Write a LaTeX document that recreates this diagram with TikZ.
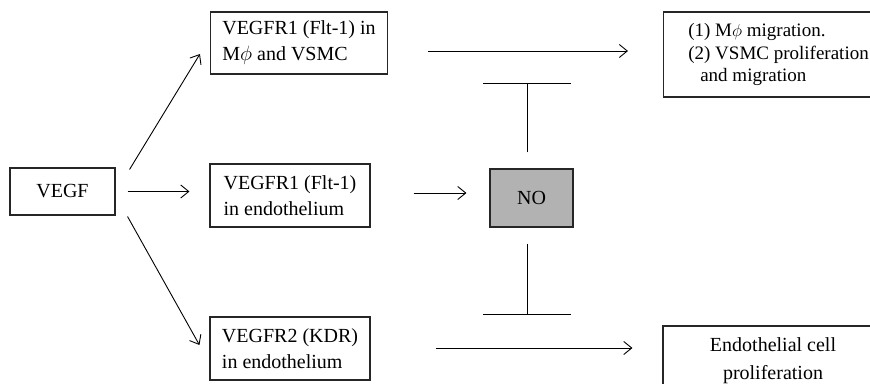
\documentclass[tikz,border=0pt]{standalone}
\usepackage{fontspec}
\setmainfont{Liberation Serif}
\usetikzlibrary{arrows.meta}

\begin{document}
\begin{tikzpicture}[x=1pt,y=-1pt]
\tikzstyle{box}=[draw=black!85,line width=1.1pt,inner sep=0pt,align=left,font=\fontsize{20}{26}\selectfont];
\tikzstyle{link}=[line width=0.9pt,-{Straight Barb[length=8pt,width=13pt]}];
\tikzstyle{inhibit}=[line width=0.9pt,-{Bar[width=88pt]}];
\useasboundingbox (0,0) rectangle (870,383);
\clip (0,0) rectangle (870,383);
% receptors
\node[box,minimum width=105pt,minimum height=47pt] (vegf) at (62.5,191.5) {VEGF};
\node[box,minimum width=177pt,minimum height=62pt] (flttop) at (299,43) {VEGFR1 (Flt-1) in\\M$\phi$ and VSMC};
\node[box,minimum width=160pt,minimum height=63pt] (fltmid) at (290,195.5) {VEGFR1 (Flt-1)\\in endothelium};
\node[box,minimum width=160pt,minimum height=63pt] (kdr) at (290,348.5) {VEGFR2 (KDR)\\in endothelium};
\node[box,fill=black!30,minimum width=83pt,minimum height=58pt] (no) at (531.5,198) {NO};
% effects
\node[box,anchor=west,inner xsep=2.5pt,minimum width=230pt,minimum height=85pt,font=\fontsize{19}{22.5}\selectfont] (migr) at (663,54.5)
  {(1) M$\phi$ migration.\\(2) VSMC proliferation\\\hspace*{0.63em}and migration};
\node[box,align=center,minimum width=220pt,minimum height=70pt,font=\fontsize{20}{28}\selectfont] (prolif) at (773,361)
  {Endothelial cell\\proliferation};
% arrows
\draw[link] ([xshift=14pt,yshift=-2pt]vegf.north east) -- ([xshift=-10pt,yshift=-11pt]flttop.west);
\draw[link] ([xshift=12pt]vegf.east) -- ([xshift=-20pt]fltmid.west |- vegf.east);
\draw[link] ([xshift=12pt,yshift=-1pt]vegf.south east) -- ([xshift=-10pt,yshift=3.5pt]kdr.west);
\draw[link] ([xshift=40pt,yshift=-8pt]flttop.east) -- ([xshift=-35pt,yshift=3.5pt]migr.west);
\draw[link] ([xshift=43pt,yshift=2.5pt]fltmid.east) -- ([xshift=-23pt,yshift=5pt]no.west);
\draw[link] ([xshift=65pt,yshift=0.5pt]kdr.east) -- ([xshift=-30pt,yshift=13pt]prolif.west);
% inhibition by NO
\coordinate (inhup) at (527,83);
\coordinate (inhdown) at (527,315);
\draw[inhibit] ([xshift=-4.5pt,yshift=16pt]no.north) -- (inhup);
\draw[inhibit] ([xshift=-4.5pt,yshift=-16pt]no.south) -- (inhdown);
\end{tikzpicture}
\end{document}
